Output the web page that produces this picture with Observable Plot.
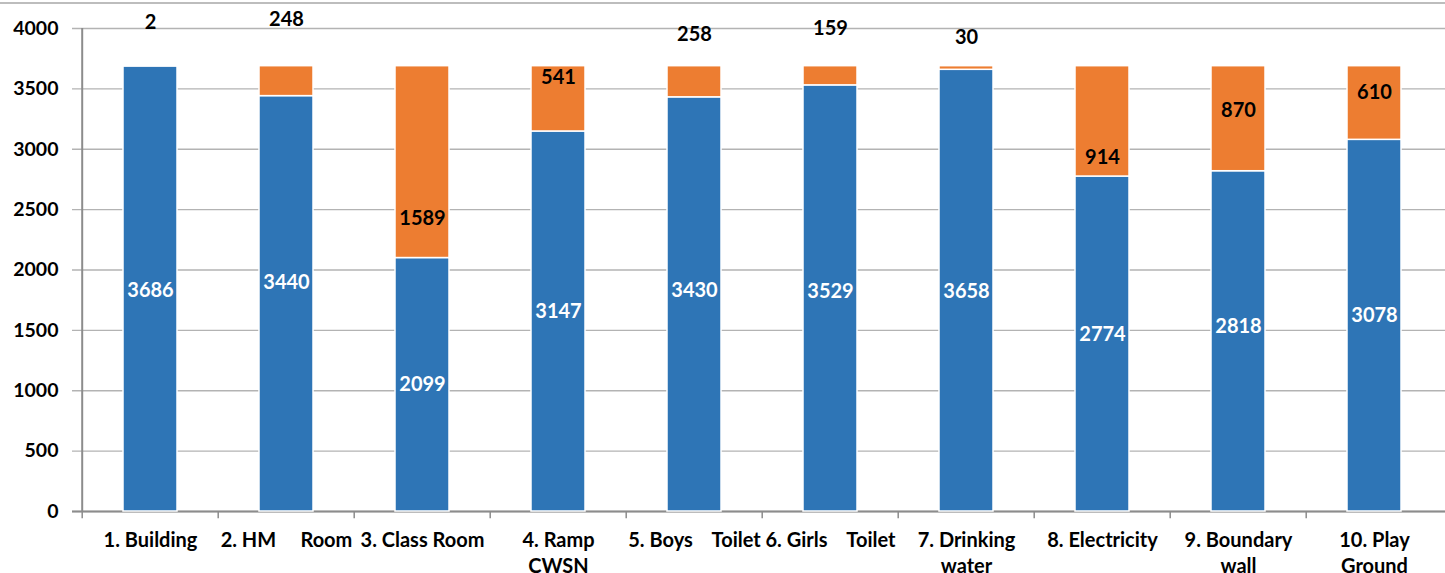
<!DOCTYPE html>
<html><head><meta charset="utf-8">
<script src="https://cdn.jsdelivr.net/npm/d3@7"></script>
<script src="https://cdn.jsdelivr.net/npm/@observablehq/plot@0.6"></script>
<style>
body{margin:0;background:#fff;}
#wrap{position:relative;width:1445px;height:573px;}
#topline{position:absolute;left:0;top:2px;width:1445px;border-top:2px solid #bdbdbd;}
</style></head>
<body><div id="wrap"><div id="topline"></div></div>
<script>
const categories = ["1. Building","2. HM\u00a0\u00a0\u00a0\u00a0\u00a0Room","3. Class Room","4. Ramp\nCWSN","5. Boys\u00a0\u00a0\u00a0\u00a0Toilet","6. Girls\u00a0\u00a0\u00a0\u00a0Toilet","7. Drinking\nwater","8. Electricity","9. Boundary\nwall","10. Play\nGround"];
const available = [3686,3440,2099,3147,3430,3529,3658,2774,2818,3078];
const notAvailable = [2,248,1589,541,258,159,30,914,870,610];
// where the reference shows each label (value units)
const availableLabelAt = [1830,1897,1052,1656,1830,1822,1822,1466,1532,1623];
const notAvailableLabelAt = [4050,4075,2427,3594,3950,4000,3925,2932,3321,3470];
const yTicks = [0,500,1000,1500,2000,2500,3000,3500,4000];

const BLUE = "#2E75B6", ORANGE = "#ED7D31";
const rows = [];
categories.forEach((c,i)=>{
  rows.push({cat:c, series:"Available", value:available[i], order:0});
  rows.push({cat:c, series:"Not available", value:notAvailable[i], order:1});
});
const blueLabels = categories.map((c,i)=>({cat:c, y:availableLabelAt[i], text:String(available[i])}));
const orangeLabels = categories.map((c,i)=>({cat:c, y:notAvailableLabelAt[i], text:String(notAvailable[i])}));

const W = 1445, ML = 79, MR = 0;
const step = (W-ML-MR)/categories.length;

const chart = Plot.plot({
  width: W, height: 573,
  marginLeft: ML, marginRight: MR, marginTop: 28, marginBottom: 62,
  style: {fontFamily: "Lato, 'Open Sans', sans-serif", fontWeight: "bold", fontSize: "19px", color: "#000", background: "transparent"},
  x: {domain: categories, paddingInner: 0.6, paddingOuter: 0.3, axis: null, label: null},
  y: {domain: [0,4000], axis: null, label: null},
  color: {domain: ["Available","Not available"], range: [BLUE, ORANGE]},
  marks: [
    Plot.gridY(yTicks, {stroke: "#b3b3b3", strokeOpacity: 1, strokeWidth: 1.3, insetLeft: -7}),
    Plot.ruleY([0], {stroke: "#8c8c8c", strokeWidth: 2, insetLeft: -7}),
    Plot.ruleX([0], {x: () => categories[0], y1: 0, y2: 4000, dx: -step/2, stroke: "#8c8c8c", strokeWidth: 2}),
    Plot.ruleX(categories, {x: d => d, y1: 0, y2: -60, dx: -step/2, stroke: "#8c8c8c", strokeWidth: 1.5}),
    Plot.barY(rows, Plot.stackY({x: "cat", y: "value", fill: "series", order: "order", stroke: "#fff", strokeWidth: 1.5})),
    Plot.axisY(yTicks, {tickSize: 0, tickPadding: 21, fontSize: 19.5, fontWeight: "bold", fill: "#000", tickFormat: d => String(d), label: null}),
    Plot.axisX({tickSize: 0, tickPadding: 17, fontSize: 20, fontWeight: "bold", fill: "#000", lineHeight: 1.3, anchor: "bottom", label: null}),
    Plot.text(blueLabels, {x: "cat", y: "y", text: "text", fill: "#fff", fontSize: 20, fontWeight: "bold"}),
    Plot.text(orangeLabels, {x: "cat", y: "y", text: "text", fill: "#000", fontSize: 20, fontWeight: "bold"})
  ]
});
document.getElementById("wrap").appendChild(chart);
</script></body></html>
